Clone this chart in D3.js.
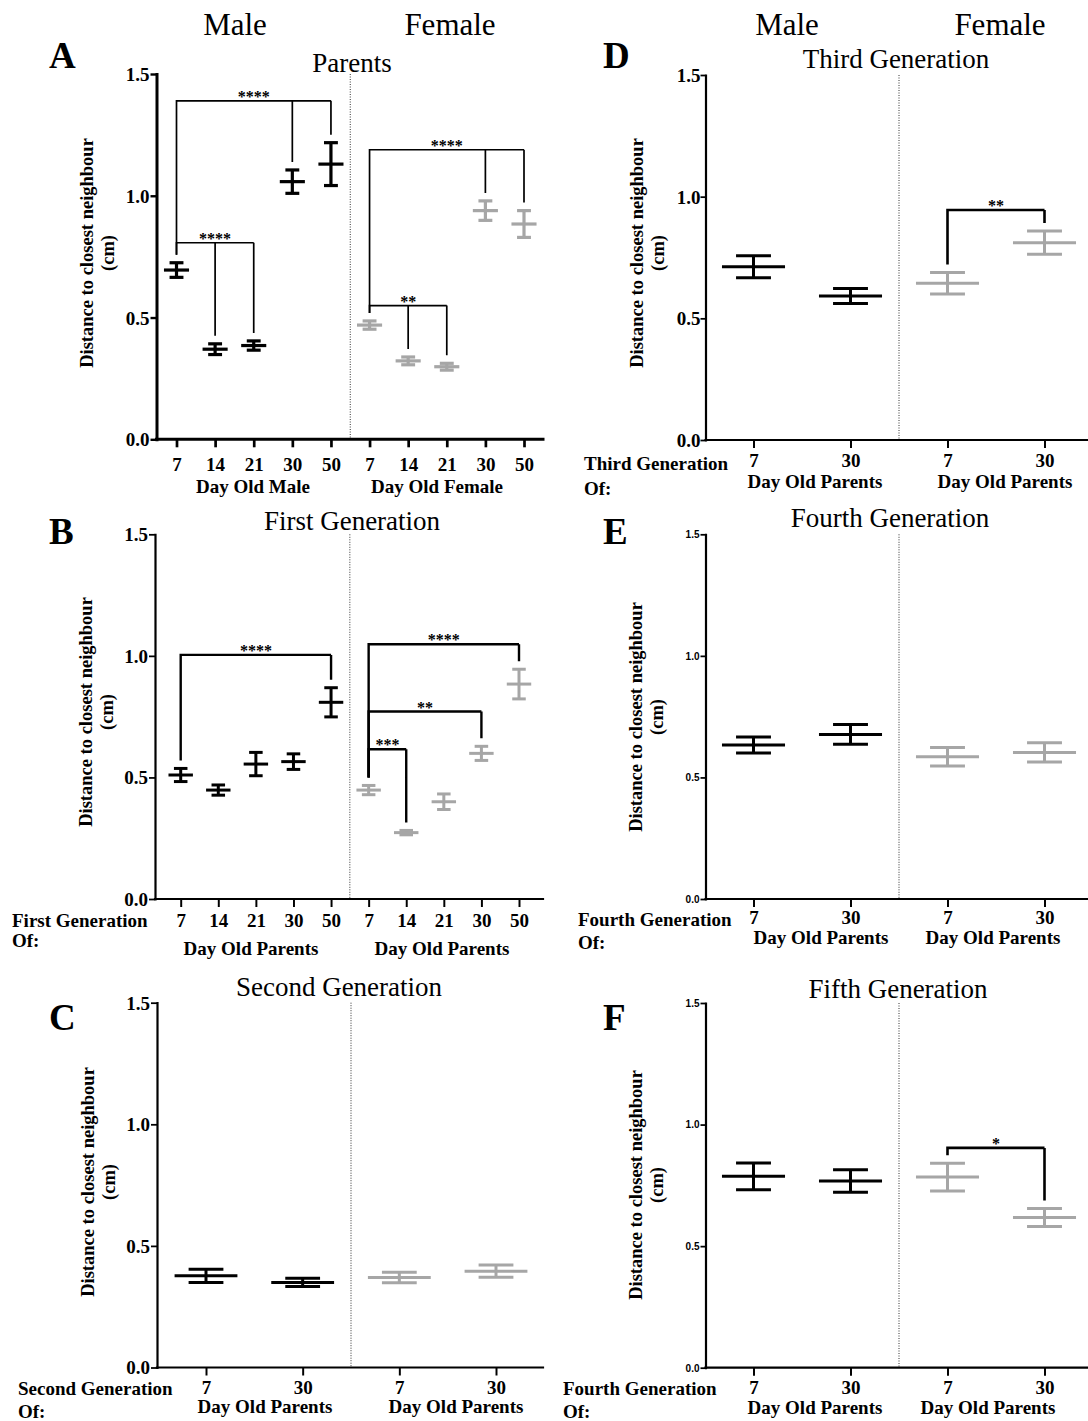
<!DOCTYPE html>
<html>
<head>
<meta charset="utf-8">
<script src="https://cdn.jsdelivr.net/npm/d3@7"></script>
<style>
  body { margin: 0; background: #fff; }
  svg { display: block; }
</style>
</head>
<body>
<svg id="fig" width="1088" height="1421"></svg>
<script>
// ---------- data: mean ± SEM distance to closest neighbour (cm) ----------
const parentDays = ["7", "14", "21", "30", "50"];
const laterDays = ["7", "30"];
const yTicks = [0, 0.5, 1.0, 1.5];

// Parents
const parentMaleMean   = [0.695, 0.370, 0.385, 1.058, 1.130];
const parentMaleSem    = [0.030, 0.022, 0.019, 0.048, 0.088];
const parentFemaleMean = [0.469, 0.322, 0.298, 0.939, 0.884];
const parentFemaleSem  = [0.017, 0.016, 0.014, 0.040, 0.055];

// First generation
const gen1MaleMean   = [0.510, 0.448, 0.555, 0.565, 0.809];
const gen1MaleSem    = [0.027, 0.021, 0.048, 0.032, 0.060];
const gen1FemaleMean = [0.448, 0.273, 0.400, 0.599, 0.884];
const gen1FemaleSem  = [0.019, 0.009, 0.032, 0.029, 0.061];

// Second generation
const gen2MaleMean   = [0.377, 0.350];
const gen2MaleSem    = [0.027, 0.017];
const gen2FemaleMean = [0.370, 0.396];
const gen2FemaleSem  = [0.022, 0.025];

// Third generation
const gen3MaleMean   = [0.712, 0.592];
const gen3MaleSem    = [0.045, 0.031];
const gen3FemaleMean = [0.644, 0.811];
const gen3FemaleSem  = [0.044, 0.048];

// Fourth generation
const gen4MaleMean   = [0.633, 0.677];
const gen4MaleSem    = [0.033, 0.041];
const gen4FemaleMean = [0.585, 0.603];
const gen4FemaleSem  = [0.038, 0.040];

// Fifth generation
const gen5MaleMean   = [0.787, 0.768];
const gen5MaleSem    = [0.055, 0.046];
const gen5FemaleMean = [0.784, 0.618];
const gen5FemaleSem  = [0.057, 0.037];

// Significance brackets: reference group, compared groups, bracket level (cm), stars
const parentBrackets = [
  { sex: "M", ref: "7", targets: ["30", "50"], level: 1.390, stars: "****" },
  { sex: "M", ref: "7", targets: ["14", "21"], level: 0.807, stars: "****" },
  { sex: "F", ref: "7", targets: ["30", "50"], level: 1.189, stars: "****" },
  { sex: "F", ref: "7", targets: ["14", "21"], level: 0.549, stars: "**" }
];
const gen1Brackets = [
  { sex: "M", ref: "7", targets: ["50"], level: 1.004, stars: "****" },
  { sex: "F", ref: "7", targets: ["50"], level: 1.048, stars: "****" },
  { sex: "F", ref: "7", targets: ["30"], level: 0.771, stars: "**" },
  { sex: "F", ref: "7", targets: ["14"], level: 0.616, stars: "***" }
];
const gen3Brackets = [
  { sex: "F", ref: "7", targets: ["30"], level: 0.945, stars: "**" }
];
const gen5Brackets = [
  { sex: "F", ref: "7", targets: ["30"], level: 0.904, stars: "*" }
];

// ---------- styling ----------
const SERIF = '"Liberation Serif", "Times New Roman", Times, serif';
const SANS = '"Liberation Sans", Arial, Helvetica, sans-serif';
const MALE_COLOR = "#000000";
const FEMALE_COLOR = "#a6a6a6";

const svg = d3.select("#fig");

// Column headers
[["Male", 235], ["Female", 450], ["Male", 787], ["Female", 1000]].forEach(([t, cx]) => {
  svg.append("text").attr("x", cx).attr("y", 35)
    .attr("text-anchor", "middle")
    .attr("font-family", SERIF).attr("font-size", 31)
    .text(t);
});

function drawPanel(p) {
  const g = svg.append("g");
  const keys = [...p.days.map(d => "M" + d), ...p.days.map(d => "F" + d)];
  const x = d3.scalePoint().domain(keys).range([p.first, p.last]);
  const y = d3.scaleLinear().domain([0, 1.5]).range([p.yBot, p.yTop]);
  const step = x.step();
  const meanW = step * 0.65;
  const capW = step * 0.36;

  const groups = [];
  p.days.forEach((d, i) => groups.push({ key: "M" + d, sex: "M", mean: p.maleMean[i], sem: p.maleSem[i] }));
  p.days.forEach((d, i) => groups.push({ key: "F" + d, sex: "F", mean: p.femaleMean[i], sem: p.femaleSem[i] }));
  const byKey = new Map(groups.map(d => [d.key, d]));

  // divider between male and female halves
  const xDiv = (x("M" + p.days[p.days.length - 1]) + x("F" + p.days[0])) / 2;
  g.append("line")
    .attr("x1", xDiv).attr("x2", xDiv)
    .attr("y1", p.yTop).attr("y2", p.yBot)
    .attr("stroke", "#333").attr("stroke-width", 1)
    .attr("stroke-dasharray", "1,1.5");

  // y axis
  const yAxis = d3.axisLeft(y)
    .tickValues(yTicks)
    .tickFormat(d3.format(".1f"))
    .tickSize(p.tickLen).tickPadding(p.tickPad).tickSizeOuter(0);
  const ya = g.append("g").attr("transform", `translate(${p.x0},0)`).call(yAxis);
  ya.select(".domain").attr("stroke-width", p.axisW).attr("stroke-linecap", "square");
  ya.selectAll(".tick line").attr("stroke-width", p.axisW * 0.8);
  ya.selectAll(".tick text")
    .attr("dy", "0.34em")
    .attr("font-family", p.smallY ? SANS : SERIF)
    .attr("font-size", p.smallY ? 10 : 19)
    .attr("font-weight", "bold")
    .attr("fill", "#000");
  ya.attr("font-family", null).attr("font-size", null);

  // x axis
  g.append("line")
    .attr("x1", p.x0).attr("x2", p.x1)
    .attr("y1", p.yBot).attr("y2", p.yBot)
    .attr("stroke", "#000").attr("stroke-width", p.axisW).attr("stroke-linecap", "square");
  const xa = g.append("g").attr("transform", `translate(0,${p.yBot})`)
    .call(d3.axisBottom(x).tickSize(8).tickSizeOuter(0).tickFormat(k => k.slice(1)));
  xa.attr("font-family", null).attr("font-size", null);
  xa.select(".domain").remove();
  xa.selectAll(".tick line").attr("stroke-width", p.axisW * 0.9);
  xa.selectAll(".tick text")
    .attr("y", p.xLabelOff).attr("dy", 0)
    .attr("font-family", SERIF).attr("font-size", 19).attr("font-weight", "bold")
    .attr("fill", "#000");

  // group captions under the ticks
  p.groupLabels.forEach((t, i) => {
    g.append("text").attr("x", p.groupX[i]).attr("y", p.groupBase)
      .attr("text-anchor", "middle")
      .attr("font-family", SERIF).attr("font-size", 19).attr("font-weight", "bold")
      .text(t);
  });

  // left caption ("... Generation / Of:")
  if (p.leftLabel) {
    p.leftLabel.forEach((t, i) => {
      g.append("text").attr("x", p.leftX).attr("y", p.leftBase[i])
        .attr("font-family", SERIF).attr("font-size", 19).attr("font-weight", "bold")
        .text(t);
    });
  }

  // y axis title
  const yt = g.append("text")
    .attr("transform", `translate(${p.yTitleX},${p.yTitleCY}) rotate(-90)`)
    .attr("text-anchor", "middle")
    .attr("font-family", SERIF).attr("font-size", 18.5).attr("font-weight", "bold");
  yt.append("tspan").attr("x", 0).attr("y", 0).text("Distance to closest neighbour");
  yt.append("tspan").attr("x", 0).attr("y", 21).text("(cm)");

  // panel title and letter
  g.append("text").attr("x", p.titleX).attr("y", p.titleY)
    .attr("text-anchor", "middle")
    .attr("font-family", SERIF).attr("font-size", 27)
    .text(p.title);
  g.append("text").attr("x", p.letterX).attr("y", p.letterY)
    .attr("font-family", SERIF).attr("font-size", 37).attr("font-weight", "bold")
    .text(p.letter);

  // mean ± SEM markers
  const bars = g.selectAll(".grp").data(groups).join("g").attr("class", "grp")
    .attr("stroke", d => d.sex === "M" ? MALE_COLOR : FEMALE_COLOR)
    .attr("stroke-width", p.barW).attr("fill", "none");
  bars.append("line")
    .attr("x1", d => x(d.key)).attr("x2", d => x(d.key))
    .attr("y1", d => y(d.mean + d.sem)).attr("y2", d => y(d.mean - d.sem));
  bars.append("line")
    .attr("x1", d => x(d.key) - meanW / 2).attr("x2", d => x(d.key) + meanW / 2)
    .attr("y1", d => y(d.mean)).attr("y2", d => y(d.mean));
  bars.append("line")
    .attr("x1", d => x(d.key) - capW / 2).attr("x2", d => x(d.key) + capW / 2)
    .attr("y1", d => y(d.mean + d.sem)).attr("y2", d => y(d.mean + d.sem));
  bars.append("line")
    .attr("x1", d => x(d.key) - capW / 2).attr("x2", d => x(d.key) + capW / 2)
    .attr("y1", d => y(d.mean - d.sem)).attr("y2", d => y(d.mean - d.sem));

  // significance brackets
  const gap = 8;
  (p.brackets || []).forEach(b => {
    const ref = byKey.get(b.sex + b.ref);
    const xs = x(ref.key);
    const yb = y(b.level);
    const tg = b.targets.map(t => byKey.get(b.sex + t));
    const xe = x(tg[tg.length - 1].key);
    const path = d3.path();
    path.moveTo(xs, y(ref.mean + ref.sem) - gap);
    path.lineTo(xs, yb);
    path.lineTo(xe, yb);
    tg.forEach(t => {
      path.moveTo(x(t.key), yb);
      path.lineTo(x(t.key), y(t.mean + t.sem) - gap);
    });
    g.append("path").attr("d", path.toString())
      .attr("fill", "none").attr("stroke", "#000").attr("stroke-width", p.brW);
    g.append("text").attr("x", (xs + xe) / 2).attr("y", yb + 1)
      .attr("text-anchor", "middle")
      .attr("font-family", SERIF).attr("font-size", 16).attr("font-weight", "bold")
      .text(b.stars);
  });
}

const leftCol = { x0: 156.5, x1: 543 };
const rightCol = { x0: 705.5, x1: 1088, first: 753.5, last: 1044.5 };

drawPanel({
  days: parentDays, maleMean: parentMaleMean, maleSem: parentMaleSem,
  femaleMean: parentFemaleMean, femaleSem: parentFemaleSem, brackets: parentBrackets,
  x0: leftCol.x0, x1: leftCol.x1, first: 176.5, last: 524,
  yTop: 74, yBot: 439.3, axisW: 3, barW: 3.2, brW: 1.7, tickLen: 6, tickPad: 1,
  xLabelOff: 32, groupBase: 493, groupLabels: ["Day Old Male", "Day Old Female"], groupX: [253, 437],
  title: "Parents", titleX: 352, titleY: 72, letter: "A", letterX: 49, letterY: 68,
  yTitleX: 93, yTitleCY: 253
});

drawPanel({
  days: parentDays, maleMean: gen1MaleMean, maleSem: gen1MaleSem,
  femaleMean: gen1FemaleMean, femaleSem: gen1FemaleSem, brackets: gen1Brackets,
  x0: 155, x1: leftCol.x1, first: 180.7, last: 519,
  yTop: 534.3, yBot: 899, axisW: 2.2, barW: 3, brW: 2.4, tickLen: 6, tickPad: 1,
  xLabelOff: 28, groupBase: 955, groupLabels: ["Day Old Parents", "Day Old Parents"], groupX: [251, 442],
  leftLabel: ["First Generation", "Of:"], leftX: 12, leftBase: [927, 947],
  title: "First Generation", titleX: 352, titleY: 530, letter: "B", letterX: 49, letterY: 544,
  yTitleX: 92, yTitleCY: 712
});

drawPanel({
  days: laterDays, maleMean: gen2MaleMean, maleSem: gen2MaleSem,
  femaleMean: gen2FemaleMean, femaleSem: gen2FemaleSem, brackets: [],
  x0: 157, x1: leftCol.x1, first: 206, last: 496,
  yTop: 1002.7, yBot: 1367.5, axisW: 2.2, barW: 3, brW: 2.4, tickLen: 6, tickPad: 1,
  xLabelOff: 26, groupBase: 1413, groupLabels: ["Day Old Parents", "Day Old Parents"], groupX: [265, 456],
  leftLabel: ["Second Generation", "Of:"], leftX: 18, leftBase: [1395, 1418],
  title: "Second Generation", titleX: 339, titleY: 996, letter: "C", letterX: 49, letterY: 1030,
  yTitleX: 94, yTitleCY: 1182
});

drawPanel({
  days: laterDays, maleMean: gen3MaleMean, maleSem: gen3MaleSem,
  femaleMean: gen3FemaleMean, femaleSem: gen3FemaleSem, brackets: gen3Brackets,
  x0: rightCol.x0, x1: rightCol.x1, first: rightCol.first, last: rightCol.last,
  yTop: 75, yBot: 440, axisW: 2.2, barW: 3, brW: 2.6, tickLen: 5, tickPad: 0,
  xLabelOff: 27, groupBase: 488, groupLabels: ["Day Old Parents", "Day Old Parents"], groupX: [815, 1005],
  leftLabel: ["Third Generation", "Of:"], leftX: 584, leftBase: [470, 495],
  title: "Third Generation", titleX: 896, titleY: 68, letter: "D", letterX: 603, letterY: 68,
  yTitleX: 643, yTitleCY: 253
});

drawPanel({
  days: laterDays, maleMean: gen4MaleMean, maleSem: gen4MaleSem,
  femaleMean: gen4FemaleMean, femaleSem: gen4FemaleSem, brackets: [],
  x0: rightCol.x0, x1: rightCol.x1, first: rightCol.first, last: rightCol.last,
  yTop: 534.3, yBot: 899, axisW: 2.2, barW: 3, brW: 2.6, tickLen: 5, tickPad: 1, smallY: true,
  xLabelOff: 25, groupBase: 944, groupLabels: ["Day Old Parents", "Day Old Parents"], groupX: [821, 993],
  leftLabel: ["Fourth Generation", "Of:"], leftX: 578, leftBase: [926, 949],
  title: "Fourth Generation", titleX: 890, titleY: 527, letter: "E", letterX: 603, letterY: 544,
  yTitleX: 642, yTitleCY: 717
});

drawPanel({
  days: laterDays, maleMean: gen5MaleMean, maleSem: gen5MaleSem,
  femaleMean: gen5FemaleMean, femaleSem: gen5FemaleSem, brackets: gen5Brackets,
  x0: rightCol.x0, x1: rightCol.x1, first: rightCol.first, last: rightCol.last,
  yTop: 1003, yBot: 1367.7, axisW: 2.2, barW: 3, brW: 2.6, tickLen: 5, tickPad: 1, smallY: true,
  xLabelOff: 26, groupBase: 1414, groupLabels: ["Day Old Parents", "Day Old Parents"], groupX: [815, 988],
  leftLabel: ["Fourth Generation", "Of:"], leftX: 563, leftBase: [1395, 1418],
  title: "Fifth Generation", titleX: 898, titleY: 998, letter: "F", letterX: 603, letterY: 1030,
  yTitleX: 642, yTitleCY: 1185
});
</script>
</body>
</html>
